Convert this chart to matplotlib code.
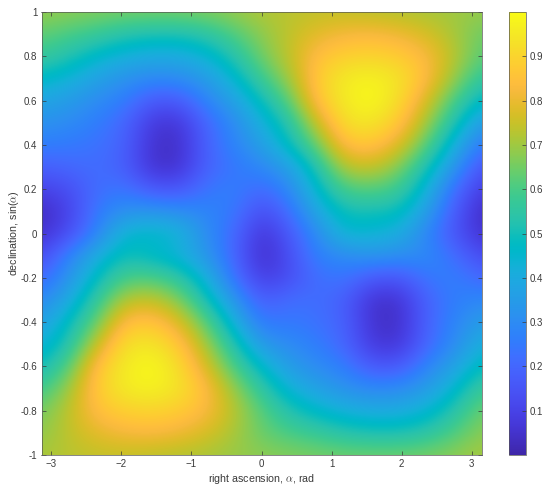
import matplotlib
matplotlib.use("Agg")
import matplotlib.pyplot as plt
import numpy as np
from matplotlib.colors import LinearSegmentedColormap

plt.rcParams['font.family'] = ['Liberation Sans', 'DejaVu Sans']
plt.rcParams['mathtext.fontset'] = 'cm'

# MATLAB parula
parula = LinearSegmentedColormap.from_list('parula', [
    [0.2422, 0.1504, 0.6603], [0.2504, 0.1650, 0.7076], [0.2578, 0.1818, 0.7511], [0.2647, 0.1978, 0.7952],
    [0.2706, 0.2147, 0.8364], [0.2751, 0.2342, 0.8710], [0.2783, 0.2559, 0.8991], [0.2803, 0.2782, 0.9221],
    [0.2813, 0.3006, 0.9414], [0.2810, 0.3228, 0.9579], [0.2795, 0.3447, 0.9717], [0.2760, 0.3667, 0.9829],
    [0.2699, 0.3892, 0.9906], [0.2602, 0.4123, 0.9952], [0.2440, 0.4358, 0.9988], [0.2206, 0.4603, 0.9973],
    [0.1963, 0.4847, 0.9892], [0.1834, 0.5074, 0.9798], [0.1786, 0.5289, 0.9682], [0.1764, 0.5499, 0.9520],
    [0.1687, 0.5703, 0.9359], [0.1540, 0.5902, 0.9218], [0.1460, 0.6091, 0.9079], [0.1380, 0.6276, 0.8973],
    [0.1248, 0.6459, 0.8883], [0.1113, 0.6635, 0.8763], [0.0952, 0.6798, 0.8598], [0.0689, 0.6948, 0.8394],
    [0.0297, 0.7082, 0.8163], [0.0036, 0.7203, 0.7917], [0.0067, 0.7312, 0.7660], [0.0433, 0.7411, 0.7394],
    [0.0964, 0.7500, 0.7120], [0.1408, 0.7584, 0.6842], [0.1717, 0.7670, 0.6554], [0.1938, 0.7758, 0.6251],
    [0.2161, 0.7843, 0.5923], [0.2470, 0.7918, 0.5567], [0.2906, 0.7973, 0.5188], [0.3406, 0.8008, 0.4789],
    [0.3909, 0.8029, 0.4354], [0.4456, 0.8024, 0.3909], [0.5044, 0.7993, 0.3480], [0.5616, 0.7942, 0.3045],
    [0.6174, 0.7876, 0.2612], [0.6720, 0.7793, 0.2227], [0.7242, 0.7698, 0.1910], [0.7738, 0.7598, 0.1646],
    [0.8203, 0.7498, 0.1535], [0.8634, 0.7406, 0.1596], [0.9035, 0.7330, 0.1774], [0.9393, 0.7288, 0.2100],
    [0.9728, 0.7298, 0.2394], [0.9956, 0.7434, 0.2371], [0.9970, 0.7659, 0.2199], [0.9952, 0.7893, 0.2028],
    [0.9892, 0.8136, 0.1885], [0.9786, 0.8386, 0.1766], [0.9676, 0.8639, 0.1643], [0.9610, 0.8890, 0.1537],
    [0.9597, 0.9135, 0.1423], [0.9628, 0.9373, 0.1265], [0.9691, 0.9606, 0.1064], [0.9769, 0.9839, 0.0805],
], N=512)

# values, rows from sin(delta)=1 down to -1, columns alpha -pi..pi in pi/8 steps
row_p10 = [.69, .68, .67, .66, .66, .66, .67, .69, .72, .73, .74, .74, .73, .72, .71, .70, .69]
row_p09 = [.63, .60, .57, .53, .51, .51, .54, .61, .68, .74, .79, .82, .83, .81, .77, .71, .64]
row_p08 = [.57, .52, .46, .42, .40, .40, .44, .53, .65, .74, .85, .89, .90, .88, .83, .73, .62]
row_p07 = [.47, .43, .37, .32, .29, .30, .35, .45, .58, .70, .88, .96, .98, .94, .84, .69, .55]
row_p06 = [.38, .35, .30, .26, .16, .16, .28, .37, .49, .62, .86, .96, 1.0, .92, .77, .60, .46]
row_p05 = [.32, .30, .26, .20, .07, .06, .20, .30, .42, .53, .75, .93, .95, .87, .70, .52, .34]
row_p04 = [.26, .25, .23, .19, .05, .04, .19, .28, .36, .48, .64, .85, .87, .78, .62, .42, .24]
row_p03 = [.18, .20, .22, .18, .05, .05, .19, .24, .29, .36, .52, .73, .75, .67, .51, .33, .14]
row_p02 = [.10, .13, .22, .24, .16, .15, .24, .27, .20, .29, .46, .60, .62, .58, .43, .22, .08]
row_p01 = [.03, .10, .25, .32, .33, .31, .28, .25, .12, .22, .39, .50, .50, .49, .36, .17, .03]
row_00 = [.05, .13, .28, .45, .47, .44, .30, .21, .05, .16, .30, .45, .44, .41, .28, .15, .05]
row_m01 = [.12, .28, .41, .50, .46, .42, .33, .20, .03, .13, .27, .30, .33, .31, .30, .22, .12]
row_m02 = [.20, .33, .48, .60, .61, .55, .42, .23, .08, .13, .22, .24, .16, .15, .24, .27, .20]
row_m03 = [.29, .40, .56, .73, .75, .67, .50, .33, .17, .22, .22, .18, .05, .05, .19, .26, .29]
row_m04 = [.36, .48, .64, .85, .87, .78, .62, .42, .24, .25, .23, .19, .05, .04, .19, .28, .36]
row_m05 = [.42, .53, .75, .93, .95, .87, .70, .52, .34, .30, .26, .20, .07, .06, .20, .30, .42]
row_m06 = [.49, .62, .86, .96, 1.0, .92, .77, .60, .46, .35, .30, .26, .16, .16, .28, .37, .49]
row_m07 = [.58, .70, .88, .96, .98, .94, .84, .69, .55, .43, .37, .32, .29, .30, .35, .45, .58]
row_m08 = [.65, .74, .85, .89, .90, .88, .83, .73, .62, .52, .46, .42, .40, .40, .44, .53, .65]
row_m09 = [.68, .74, .79, .82, .83, .81, .77, .71, .64, .60, .57, .53, .51, .51, .54, .61, .68]
row_m10 = [.71, .73, .74, .74, .73, .72, .71, .69, .68, .67, .66, .65, .65, .65, .66, .68, .71]

sky = np.array([row_p10, row_p09, row_p08, row_p07, row_p06, row_p05, row_p04, row_p03, row_p02, row_p01, row_00,
                row_m01, row_m02, row_m03, row_m04, row_m05, row_m06, row_m07, row_m08, row_m09, row_m10])

x_ticks = [-3, -2, -1, 0, 1, 2, 3]
y_ticks = [-1, -0.8, -0.6, -0.4, -0.2, 0, 0.2, 0.4, 0.6, 0.8, 1]
y_tick_labels = ['-1', '-0.8', '-0.6', '-0.4', '-0.2', '0', '0.2', '0.4', '0.6', '0.8', '1']
cbar_ticks = [0.1, 0.2, 0.3, 0.4, 0.5, 0.6, 0.7, 0.8, 0.9]

W, H = 550, 495
INK = '#3a3a3a'
fig = plt.figure(figsize=(W / 100, H / 100), dpi=100)
ax = fig.add_axes([41.5 / W, 1 - 455 / H, 440 / W, 443 / H])

half_x = np.pi / 16
im = ax.imshow(sky, cmap=parula, vmin=0, vmax=1, aspect='auto', interpolation='bicubic',
               extent=(-np.pi - half_x, np.pi + half_x, -1.05, 1.05), origin='upper')
ax.set_xlim(-np.pi, np.pi)
ax.set_ylim(-1, 1)
ax.set_xticks(x_ticks)
ax.set_yticks(y_ticks)
ax.set_yticklabels(y_tick_labels)
ax.tick_params(direction='in', length=3, width=0.5, top=True, right=True, labelsize=7,
               colors=INK, pad=3)
ax.set_xlabel(r'right ascension, $\alpha$, rad', fontsize=7.7, color=INK, labelpad=2)
ax.set_ylabel(r'declination, sin($\alpha$)', fontsize=7.7, color=INK, labelpad=0)
for s in ax.spines.values():
    s.set_linewidth(0.5)
    s.set_color('#555555')

cax = fig.add_axes([509 / W, 1 - 455 / H, 16.5 / W, 443 / H])
cb = fig.colorbar(im, cax=cax, ticks=cbar_ticks)
cb.ax.set_yticklabels([f'{t:.1f}' for t in cbar_ticks])
cb.ax.tick_params(direction='in', length=3, width=0.5, labelsize=7, colors=INK, pad=3)
cb.outline.set_linewidth(0.5)
cb.outline.set_edgecolor('#555555')

fig.savefig('out.png', dpi=100)
